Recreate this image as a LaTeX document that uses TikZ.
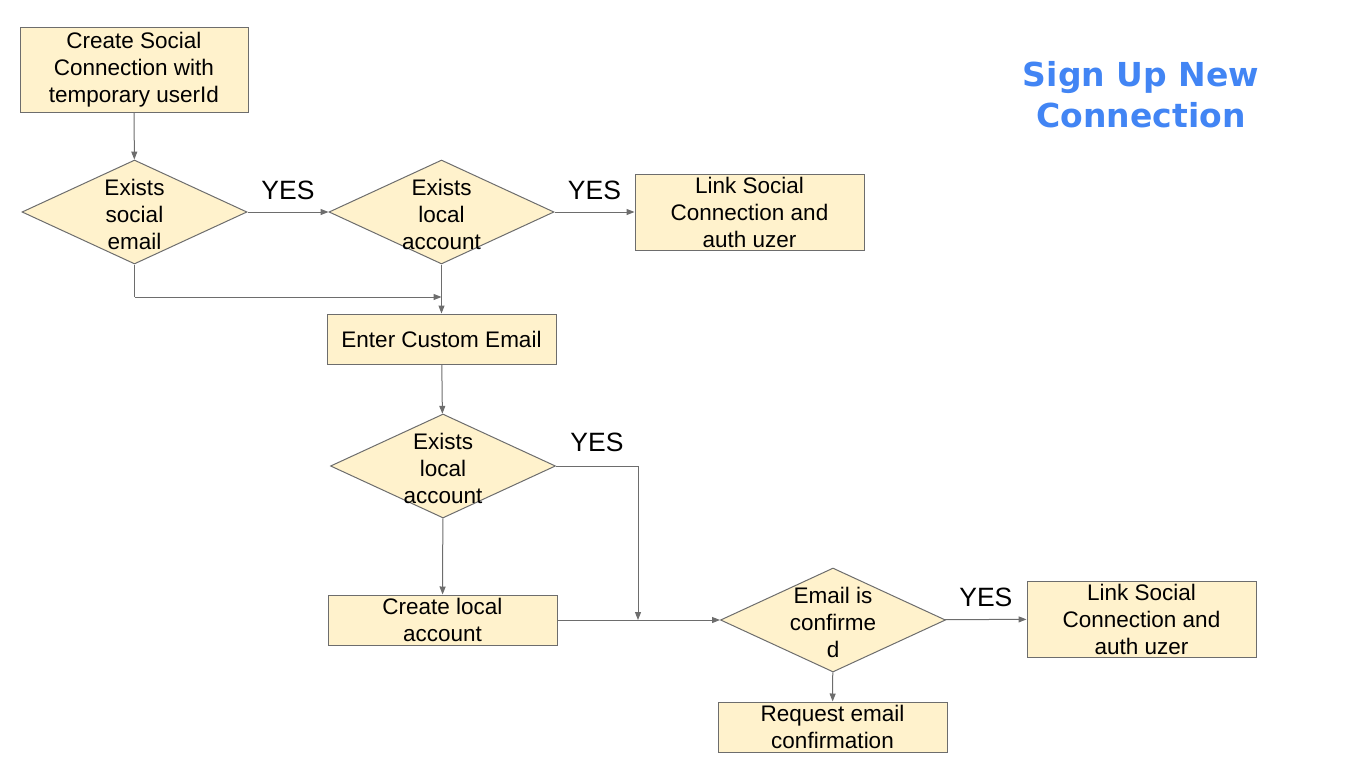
\documentclass[tikz,border=0pt]{standalone}
\usepackage{fontspec}
\setmainfont{Liberation Sans}
\newfontfamily\titlefont{DejaVu Sans}
\usepackage{xcolor}
\usetikzlibrary{shapes.geometric, arrows.meta, positioning}

\definecolor{stepfill}{HTML}{FFF2CC}
\definecolor{lineclr}{HTML}{6D6D6D}
\definecolor{titleblue}{HTML}{4285F4}

\begin{document}
\begin{tikzpicture}[
    x=1pt, y=-1pt,
    stepbox/.style={rectangle, draw=lineclr, line width=1pt, fill=stepfill, minimum width=229pt, inner sep=0pt, align=center, font=\fontsize{22.5}{27}\selectfont},
    decision/.style={diamond, draw=lineclr, line width=1pt, fill=stepfill, minimum width=225pt, minimum height=104pt, inner sep=0pt},
    dtext/.style={align=center, yshift=-2pt, font=\fontsize{22.5}{27}\selectfont},
    conn/.style={draw=lineclr, line width=1pt},
    arr/.style={conn, -{Triangle[length=8pt,width=6pt]}},
    yes/.style={font=\fontsize{26.5}{30}\selectfont}
]
\useasboundingbox (0,0) rectangle (1366,768);

% Start
\node[stepbox, minimum height=84pt, minimum width=228pt] (start) at (134,70) {Create Social\\Connection with\\temporary userId};

% First row of decisions
\node[decision] (social) at (134.5,212) {};
\node[dtext] at (social.center) {Exists\\social\\email};
\node[decision] (local) at (441.5,212) {};
\node[dtext] at (local.center) {Exists\\local\\account};
\node[stepbox, minimum height=76pt] (link) at (749.5,212) {Link Social\\Connection and\\auth uzer};

% Custom email
\node[stepbox, minimum height=50pt] (custom) at (441.5,339) {Enter Custom Email};
\node[decision] (local2) at (443,466) {};
\node[dtext] at (local2.center) {Exists\\local\\account};
\node[stepbox, minimum height=50pt] (create) at (442.5,620) {Create local\\account};

% Confirmation
\node[decision] (confirm) at (833,620) {};
\node[dtext] at (confirm.center) {Email is\\confirme\\d};
\node[stepbox, minimum height=76pt] (link2) at (1141.5,619) {Link Social\\Connection and\\auth uzer};
\node[stepbox, minimum height=50pt] (request) at (832.5,727) {Request email\\confirmation};

% Title
\node[font=\titlefont\bfseries\fontsize{33}{41}\selectfont, text=titleblue, align=center] (title) at (1141,95) {Sign Up New\\Connection};

% Junctions
\coordinate (k1) at (134.5,297);
\coordinate (j1) at (441.5,297);
\coordinate (k2) at (638,466);
\coordinate (j2) at (638,620);

% Arrows
\draw[arr] (start) -- (social);
\draw[arr] (social) -- (local) node[yes, midway, above=8pt] (y1) {YES};
\draw[arr] (local) -- (link) node[yes, midway, above=8pt] (y2) {YES};
\draw[conn] (social.south) -- (k1);
\draw[arr] (k1) -- (j1);
\draw[arr] (local.south) -- (custom.north);
\draw[arr] (custom) -- (local2);
\draw[conn] (local2.east) -- (k2) node[yes, midway, above=10pt] (y3) {YES};
\draw[arr] (k2) -- (j2);
\draw[arr] (local2) -- (create);
\draw[arr] (create) -- (confirm);
\draw[arr] (confirm) -- (link2) node[yes, midway, above=9pt] (y4) {YES};
\draw[arr] (confirm) -- (request);

\end{tikzpicture}
\end{document}
